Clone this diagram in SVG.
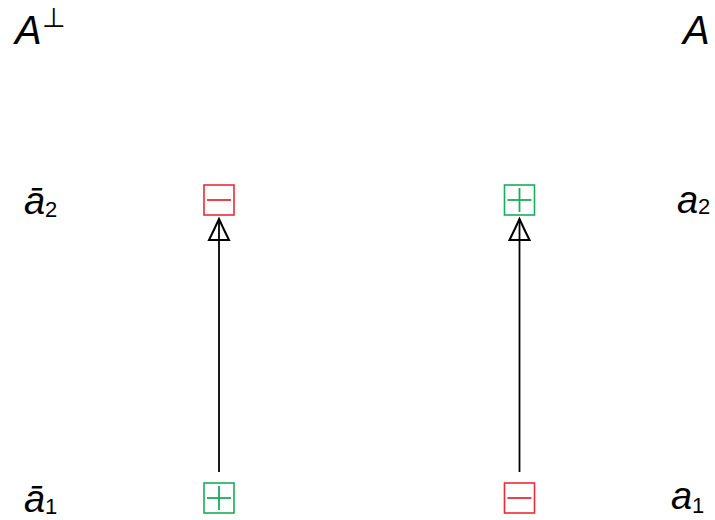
<svg xmlns="http://www.w3.org/2000/svg" width="715" height="520" viewBox="0 0 715 520">
<defs>
<style>
.t{font-family:"Liberation Sans",Arial,sans-serif;font-style:italic;fill:#000}
.s{font-family:"Liberation Sans",Arial,sans-serif;fill:#000}
.r{fill:#fff;stroke:#ee2a35;stroke-width:1.6}
.rl{stroke:#ee2a35;stroke-width:1.8}
.g{fill:#fff;stroke:#18ad5b;stroke-width:1.6}
.gl{stroke:#18ad5b;stroke-width:1.8}
.c{stroke:#000;stroke-width:1.8;fill:none}
</style>
<marker id="ah" viewBox="-2 -12 26 24" refX="21" refY="0" markerWidth="26" markerHeight="24" markerUnits="userSpaceOnUse" orient="auto" overflow="visible">
<path d="M21,0 Q10,-5 0,-10 L0,10 Q10,5 21,0 Z" fill="none" stroke="#000" stroke-width="2" stroke-linejoin="miter"/>
</marker>
</defs>
<rect width="715" height="520" fill="#fff"/>
<g id="title-left"><text class="t" x="15" y="44" font-size="40">A</text><text class="s" x="42" y="27" font-size="27" font-family="DejaVu Sans">⊥</text></g>
<g id="title-right"><text class="t" x="683" y="44" font-size="40">A</text></g>
<g id="label-abar2"><text class="t" x="24" y="214" font-size="38">ā</text><text class="s" x="45" y="217" font-size="22">2</text></g>
<g id="label-abar1"><text class="t" x="24" y="512" font-size="38">ā</text><text class="s" x="45" y="514" font-size="22">1</text></g>
<g id="label-a2"><text class="t" x="677" y="213" font-size="38">a</text><text class="s" x="698" y="214" font-size="22">2</text></g>
<g id="label-a1"><text class="t" x="671" y="509" font-size="38">a</text><text class="s" x="692" y="513" font-size="22">1</text></g>
<g id="connectors">
<line class="c" x1="219" y1="472" x2="219" y2="219" marker-end="url(#ah)"/>
<line class="c" x1="519.5" y1="472" x2="519.5" y2="219" marker-end="url(#ah)"/>
</g>
<g id="n-left-top"><rect class="r" x="204" y="185" width="30" height="30"/><line class="rl" x1="207" y1="200" x2="231" y2="200"/></g>
<g id="n-right-top"><rect class="g" x="504.5" y="185" width="30" height="30"/><line class="gl" x1="507.5" y1="200" x2="531.5" y2="200"/><line class="gl" x1="519.5" y1="188" x2="519.5" y2="212"/></g>
<g id="n-left-bottom"><rect class="g" x="204" y="483" width="30" height="30"/><line class="gl" x1="207" y1="498" x2="231" y2="498"/><line class="gl" x1="219" y1="486" x2="219" y2="510"/></g>
<g id="n-right-bottom"><rect class="r" x="504.5" y="483" width="30" height="30"/><line class="rl" x1="507.5" y1="498" x2="531.5" y2="498"/></g>
</svg>
